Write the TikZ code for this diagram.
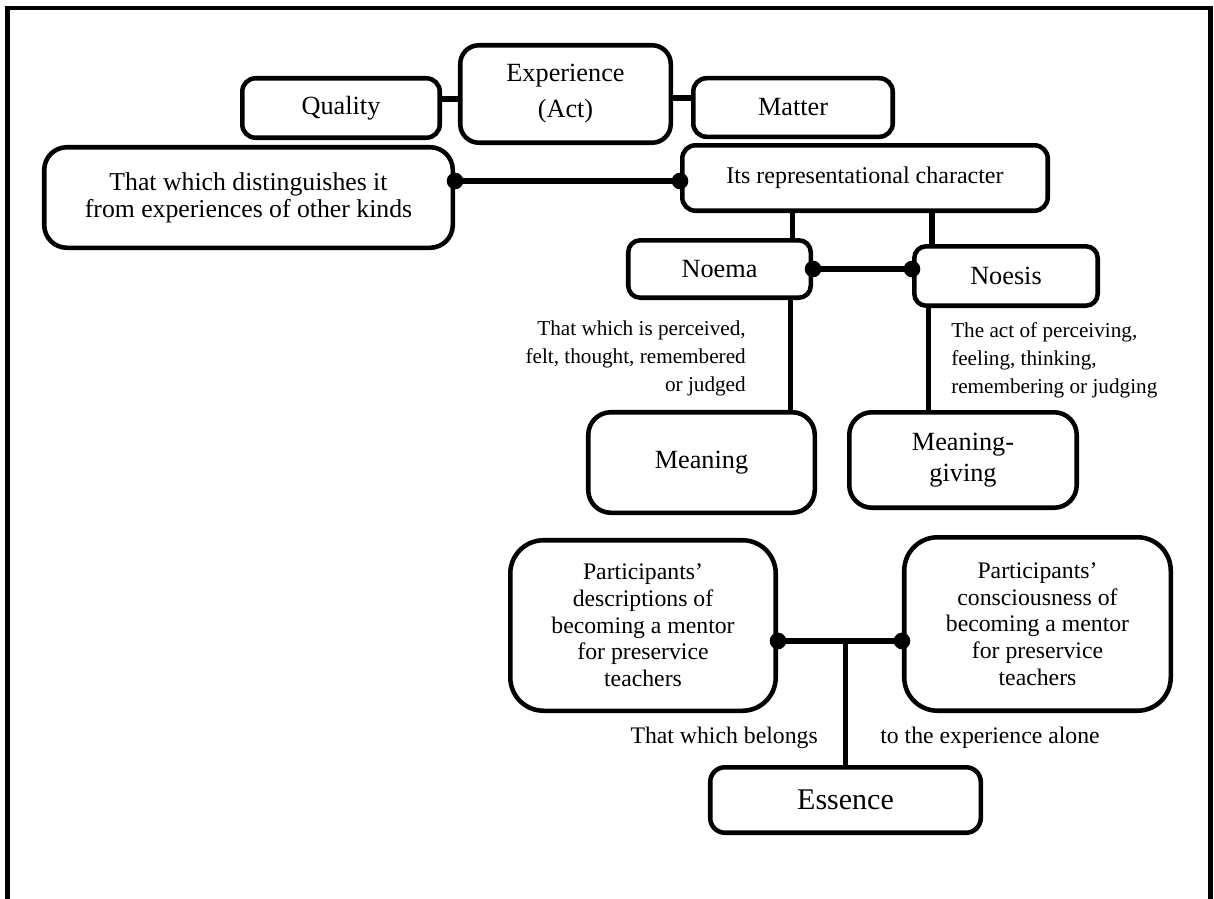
\documentclass[tikz,border=0pt]{standalone}
\usepackage{fontspec}
\setmainfont{Liberation Serif}
\usetikzlibrary{positioning}

\begin{document}
\begin{tikzpicture}[
  x=0.75pt, y=-0.75pt,
  box/.style={draw=black, line width=3.4pt, rounded corners=#1, align=center,
    inner sep=0pt, font=\fontsize{19.7}{24}\selectfont},
  box/.default=10pt,
  conn/.style={black, line width=3.8pt},
  dot/.style={circle, fill=black, inner sep=0pt, minimum size=12.5pt},
  lbl/.style={inner sep=0pt, font=\fontsize{15.9}{21}\selectfont},
  biglbl/.style={inner sep=0pt, font=\fontsize{17.8}{20}\selectfont}
]
  \useasboundingbox (0,0) rectangle (1214,899);

  % outer frame, open at the bottom
  \draw[line width=3.5pt] (7.5,899) -- (7.5,8) -- (1210.5,8) -- (1210.5,899);

  % --- Top row ---
  \node[box=10pt, minimum width=148.1pt, minimum height=44.6pt] (quality) at (341,108) {Quality};
  \node[box=14pt, minimum width=157.9pt, minimum height=73.1pt,
        font=\fontsize{19.7}{27}\selectfont] (exper) at (565.5,94) {Experience\\(Act)};
  \node[box=10pt, minimum width=149.6pt, minimum height=43.9pt] (matter) at (793,107.5) {Matter};

  \node[box=17pt, minimum width=306.4pt, minimum height=75.4pt,
        font=\fontsize{19.3}{20.25}\selectfont] (distin) at (248.5,197.5)
        {That which distinguishes it\\from experiences of other kinds};
  \node[box=10pt, minimum width=274.1pt, minimum height=49.1pt,
        font=\fontsize{18}{20}\selectfont] (repr) at (865,178) {Its representational character};

  % --- Noema / Noesis ---
  \node[box=9pt, minimum width=136.9pt, minimum height=43.1pt] (noema) at (719.5,269) {Noema};
  \node[box=9pt, minimum width=137.6pt, minimum height=44.6pt] (noesis) at (1006,276) {Noesis};

  \node[box=17pt, minimum width=169.9pt, minimum height=75.4pt] (meaning) at (701.5,462.5) {Meaning};
  \node[box=17pt, minimum width=170.6pt, minimum height=71.6pt,
        font=\fontsize{19.7}{23.25}\selectfont] (mgiving) at (963,460) {Meaning-\\giving};

  \node[lbl, align=right, anchor=east] (noemalbl) at (746,358)
        {That which is perceived,\\felt, thought, remembered\\or judged};
  \node[lbl, align=left, anchor=west] (noesislbl) at (951,360.5)
        {The act of perceiving,\\feeling, thinking,\\remembering or judging};

  % --- Participants and essence ---
  \node[box=25pt, minimum width=199.1pt, minimum height=127.9pt,
        font=\fontsize{17.8}{20}\selectfont] (descr) at (643,625.5)
        {Participants’\\descriptions of\\becoming a mentor\\for preservice\\teachers};
  \node[box=25pt, minimum width=199.9pt, minimum height=130.1pt,
        font=\fontsize{17.8}{20}\selectfont] (consc) at (1037.5,624)
        {Participants’\\consciousness of\\becoming a mentor\\for preservice\\teachers};
  \node[box=11pt, minimum width=202.9pt, minimum height=49.1pt,
        font=\fontsize{22.5}{24}\selectfont] (essence) at (845.5,800) {Essence};

  \node[biglbl, anchor=east] (belongs) at (818,738) {That which belongs};
  \node[biglbl, anchor=west] (alone) at (880,738) {to the experience alone};

  % --- Connectors ---
  \coordinate (qa) at ([yshift=-3.75pt]exper.west);
  \coordinate (ma) at ([yshift=-3pt]exper.east);
  \draw[conn] (qa) -- (qa -| quality.east);
  \draw[conn] (ma) -- (ma -| matter.west);

  \coordinate (dr) at ([yshift=-2.25pt]repr.west);
  \draw[conn] (dr) -- (dr -| distin.east);
  \node[dot] (dotdl) at (dr -| distin.east) {};
  \node[dot] (dotdr) at (dr) {};

  \coordinate (rn) at ([xshift=54.4pt]noema.north);
  \coordinate (rs) at ([xshift=-55.5pt]noesis.north);
  \draw[conn] (rn) -- (rn |- repr.south);
  \draw[conn] (rs) -- (rs |- repr.south);

  \draw[conn] (noema.east) -- (noema.east -| noesis.west);
  \node[dot] (dotnl) at (noema.east) {};
  \node[dot] (dotnr) at (noema.east -| noesis.west) {};

  \coordinate (nm) at ([xshift=53.25pt]noema.south);
  \coordinate (ng) at ([xshift=-58.1pt]noesis.south);
  \draw[conn] (nm) -- (nm |- meaning.north);
  \draw[conn] (ng) -- (ng |- mgiving.north);

  \coordinate (pl) at ([yshift=-11.6pt]descr.east);
  \draw[conn] (pl) -- (pl -| consc.west);
  \draw[conn] (essence.north) -- (essence.north |- pl);
  \node[dot] (dotpl) at (pl) {};
  \node[dot] (dotpr) at (pl -| consc.west) {};

\end{tikzpicture}
\end{document}
